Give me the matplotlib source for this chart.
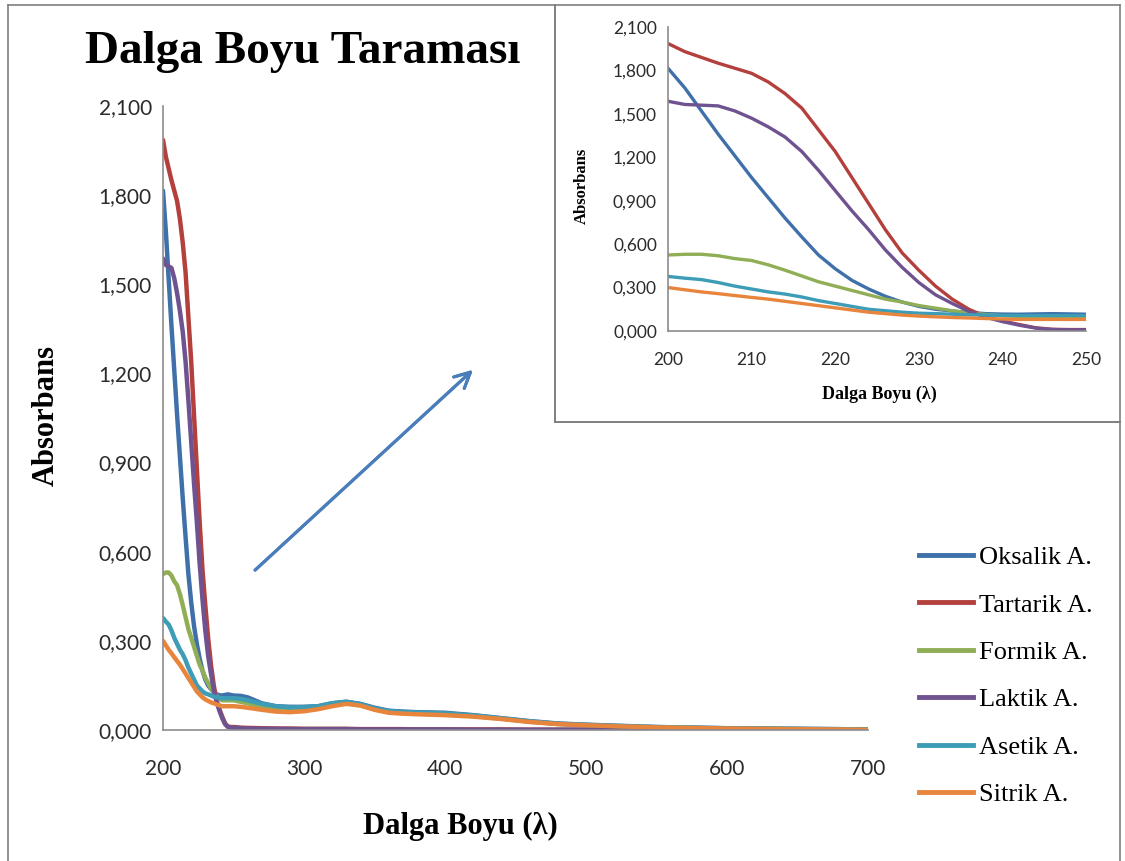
import matplotlib
matplotlib.use("Agg")
import matplotlib.pyplot as plt
from matplotlib.lines import Line2D
from matplotlib.ticker import FuncFormatter, MultipleLocator

# Dalga boyu (nm)
dalga = [200, 202, 204, 206, 208, 210, 212, 214, 216, 218, 220, 222, 224,
         226, 228, 230, 232, 234, 236, 238, 240, 242, 244, 246, 248, 250,
         255, 260, 270, 280, 290, 300, 310, 320, 330, 340, 350, 360, 370,
         380, 400, 420, 440, 460, 480, 500, 525, 550, 600, 650, 700]

oksalik = [1.815, 1.68, 1.52, 1.36, 1.21, 1.06, 0.92, 0.78, 0.65, 0.525, 0.43,
           0.35, 0.29, 0.24, 0.20, 0.17, 0.15, 0.138, 0.128, 0.12, 0.117,
           0.116, 0.118, 0.12, 0.118, 0.116,
           0.115, 0.11, 0.09, 0.08, 0.078, 0.078, 0.08, 0.09, 0.095, 0.088,
           0.075, 0.065, 0.062, 0.06, 0.058, 0.05, 0.04, 0.03, 0.022, 0.018,
           0.014, 0.01, 0.006, 0.004, 0.002]

tartarik = [1.986, 1.93, 1.89, 1.85, 1.815, 1.78, 1.72, 1.64, 1.54, 1.39, 1.24,
            1.06, 0.88, 0.70, 0.54, 0.42, 0.31, 0.22, 0.15, 0.10, 0.07, 0.045,
            0.022, 0.012, 0.01, 0.01,
            0.008, 0.007, 0.006, 0.005, 0.005, 0.004, 0.004, 0.004, 0.004,
            0.003, 0.003, 0.003, 0.003, 0.002, 0.002, 0.002, 0.002, 0.001,
            0.001, 0.001, 0.001, 0.001, 0.0, 0.0, 0.0]

formik = [0.525, 0.53, 0.53, 0.52, 0.50, 0.487, 0.457, 0.42, 0.38, 0.34, 0.31,
          0.28, 0.25, 0.22, 0.20, 0.176, 0.158, 0.14, 0.125, 0.114, 0.105,
          0.10, 0.10, 0.10, 0.10, 0.10,
          0.095, 0.09, 0.08, 0.07, 0.068, 0.07, 0.075, 0.085, 0.09, 0.085,
          0.07, 0.06, 0.057, 0.055, 0.052, 0.047, 0.038, 0.028, 0.02, 0.016,
          0.012, 0.009, 0.005, 0.003, 0.001]

laktik = [1.587, 1.565, 1.56, 1.555, 1.52, 1.47, 1.41, 1.34, 1.24, 1.11, 0.97,
          0.83, 0.70, 0.56, 0.44, 0.335, 0.25, 0.19, 0.135, 0.095, 0.065,
          0.04, 0.02, 0.01, 0.008, 0.008,
          0.006, 0.005, 0.004, 0.004, 0.003, 0.003, 0.003, 0.003, 0.003,
          0.002, 0.002, 0.002, 0.002, 0.002, 0.002, 0.001, 0.001, 0.001,
          0.001, 0.001, 0.001, 0.0, 0.0, 0.0, 0.0]

asetik = [0.377, 0.365, 0.355, 0.335, 0.31, 0.29, 0.27, 0.255, 0.235, 0.21,
          0.19, 0.17, 0.15, 0.14, 0.13, 0.123, 0.12, 0.116, 0.112, 0.11, 0.108,
          0.107, 0.107, 0.107, 0.107, 0.107,
          0.105, 0.10, 0.088, 0.08, 0.076, 0.077, 0.08, 0.09, 0.095, 0.087,
          0.073, 0.064, 0.061, 0.059, 0.056, 0.049, 0.039, 0.029, 0.021, 0.017,
          0.013, 0.01, 0.006, 0.004, 0.002]

sitrik = [0.30, 0.285, 0.27, 0.258, 0.245, 0.232, 0.22, 0.205, 0.19, 0.175,
          0.16, 0.145, 0.13, 0.12, 0.11, 0.103, 0.098, 0.093, 0.09, 0.086,
          0.083, 0.08, 0.08, 0.08, 0.08, 0.08,
          0.078, 0.075, 0.068, 0.062, 0.06, 0.063, 0.07, 0.08, 0.088, 0.082,
          0.068, 0.058, 0.055, 0.053, 0.05, 0.045, 0.037, 0.027, 0.02, 0.016,
          0.012, 0.009, 0.005, 0.003, 0.001]

seriler = [("Oksalik A.", oksalik, "#3f70a9"),
           ("Tartarik A.", tartarik, "#b3403d"),
           ("Formik A.", formik, "#8fae55"),
           ("Laktik A.", laktik, "#6f5290"),
           ("Asetik A.", asetik, "#3d9cb6"),
           ("Sitrik A.", sitrik, "#e8853c")]

W, H = 1125, 861
serif = "Liberation Serif"
sans = "Lato"


def fx(px):
    return px / W


def fy(py):
    return 1 - py / H


virgul = FuncFormatter(lambda v, p: f"{v:.3f}".replace(".", ","))

fig = plt.figure(figsize=(W / 100, H / 100), dpi=100)
fig.patch.set_facecolor("white")


def eksen_ayarla(ax, fs):
    for s in ["top", "right"]:
        ax.spines[s].set_visible(False)
    for s in ["left", "bottom"]:
        ax.spines[s].set_color("#8c8c8c")
        ax.spines[s].set_linewidth(1.2)
    ax.tick_params(length=0, labelsize=fs, colors="#2b2b2b")
    for lab in ax.get_xticklabels() + ax.get_yticklabels():
        lab.set_family(sans)
    ax.set_ylim(0, 2.1)
    ax.yaxis.set_major_locator(MultipleLocator(0.3))
    ax.yaxis.set_major_formatter(virgul)


# Ana grafik
ax = fig.add_axes([fx(163), fy(730), fx(868) - fx(163), fy(106) - fy(730)])
for ad, deger, renk in seriler:
    ax.plot(dalga, deger, color=renk, lw=3.2, solid_capstyle="round")
ax.set_xlim(200, 700)
ax.xaxis.set_major_locator(MultipleLocator(100))
eksen_ayarla(ax, 15)
ax.tick_params(axis="x", pad=21)
ax.tick_params(axis="y", pad=8)

# Yakinlastirilmis grafik (200-250 nm)
ins = fig.add_axes([fx(668), fy(331), fx(1086) - fx(668), fy(27) - fy(331)])
for ad, deger, renk in seriler:
    ins.plot(dalga, deger, color=renk, lw=2.4)
ins.set_xlim(200, 250)
ins.xaxis.set_major_locator(MultipleLocator(10))
eksen_ayarla(ins, 12.5)
ins.tick_params(axis="x", pad=15)
ins.tick_params(axis="y", pad=8)

# Cerceveler
gri = "#7f7f7f"
fig.add_artist(Line2D([fx(8), fx(8)], [fy(5), 0], color=gri, lw=1.2))
fig.add_artist(Line2D([fx(8), fx(1120)], [fy(5), fy(5)], color=gri, lw=1.2))
fig.add_artist(Line2D([fx(1120), fx(1120)], [fy(5), 0], color=gri, lw=1.2))
fig.add_artist(Line2D([fx(555), fx(555)], [fy(5), fy(422)], color=gri, lw=1.4))
fig.add_artist(Line2D([fx(555), fx(1120)], [fy(422), fy(422)], color=gri, lw=1.4))

# Yazilar
fig.text(fx(85), fy(52), "Dalga Boyu Taraması", family=serif, weight="bold",
         fontsize=34, ha="left", va="center")
fig.text(fx(46), fy(415), "Absorbans", family=serif, weight="bold",
         fontsize=22, rotation=90, ha="center", va="center")
fig.text(fx(460), fy(826), "Dalga Boyu (λ)", family=serif, weight="bold",
         fontsize=22, ha="center", va="center")
fig.text(fx(582), fy(186), "Absorbans", family=serif, weight="bold",
         fontsize=12, rotation=90, ha="center", va="center")
fig.text(fx(879), fy(394), "Dalga Boyu (λ)", family=serif, weight="bold",
         fontsize=13, ha="center", va="center")

# Ok
fig.add_artist(plt.annotate("", xy=(fx(475), fy(368)), xytext=(fx(253), fy(572)),
                            xycoords="figure fraction", textcoords="figure fraction",
                            arrowprops=dict(arrowstyle="->", color="#4a7ebb", lw=2.2,
                                            mutation_scale=28)))

# Lejant
tutamac = [Line2D([], [], color=renk, lw=3.5) for ad, deger, renk in seriler]
fig.legend(tutamac, [ad for ad, deger, renk in seriler], loc="center left",
           bbox_to_anchor=(fx(906), fy(676)), frameon=False, borderpad=0,
           handlelength=2.05, handletextpad=0.2, labelspacing=0.91,
           prop={"family": serif, "size": 19})

fig.savefig("out.png", dpi=100, facecolor="white")
